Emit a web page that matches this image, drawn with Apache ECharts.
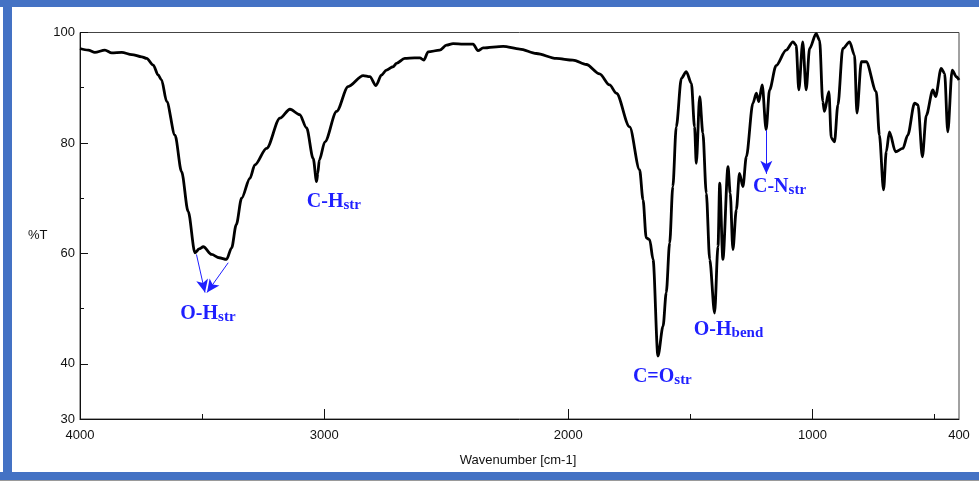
<!DOCTYPE html>
<html>
<head>
<meta charset="utf-8">
<script src="https://cdn.jsdelivr.net/npm/echarts@6/dist/echarts.min.js"></script>
<style>
  html, body { margin: 0; padding: 0; background: #ffffff; }
  #chart { width: 979px; height: 481px; }
</style>
</head>
<body>
<div id="chart"></div>
<script>
// FTIR transmittance spectrum: wavenumber (cm-1) and %T
const wavenumbers = [
  4000, 3966, 3939, 3898, 3870, 3829, 3788, 3747, 3727, 3700,
  3680, 3666, 3645, 3611, 3584, 3557, 3529, 3512, 3495, 3461,
  3430, 3400, 3379, 3360, 3338, 3304, 3284, 3236, 3181, 3140,
  3100, 3072, 3045, 3031, 3026, 3020, 2997, 2949, 2902, 2840,
  2813, 2788, 2765, 2745, 2718, 2704, 2670, 2630, 2608, 2592,
  2574, 2527, 2499, 2472, 2430, 2390, 2370, 2349, 2267, 2199,
  2131, 2049, 1981, 1926, 1872, 1831, 1803, 1749, 1708, 1694,
  1681, 1667, 1653, 1633, 1612, 1599, 1585, 1572, 1558, 1537,
  1517, 1496, 1483, 1476, 1462, 1449, 1435, 1421, 1401, 1387,
  1380, 1367, 1346, 1337, 1326, 1312, 1299, 1285, 1271, 1244,
  1230, 1220, 1206, 1190, 1176, 1149, 1108, 1080, 1067, 1056,
  1040, 1026, 1012, 985, 971, 958, 951, 933, 923, 910,
  896, 876, 848, 828, 818, 800, 780, 739, 726, 709,
  698, 685, 660, 630, 610, 582, 568, 550, 534, 507,
  496, 473, 459, 446, 428, 411, 400
];
const transmittance = [
  97.1, 96.8, 96.4, 96.8, 96.3, 96.4, 96.0, 95.6, 95.3, 94.1,
  92.3, 91.4, 87.5, 81.4, 74.8, 67.6, 60.1, 60.8, 61.2, 59.8,
  59.2, 58.9, 61.0, 65.2, 70.0, 73.6, 76.0, 79.0, 84.5, 86.1,
  85.1, 82.7, 77.2, 73.0, 74.5, 76.9, 80.2, 85.7, 90.2, 92.2,
  92.0, 90.4, 92.3, 93.2, 93.8, 94.4, 95.3, 95.4, 95.4, 95.0,
  96.5, 96.8, 97.7, 98.0, 97.9, 97.9, 96.7, 97.2, 97.5, 97.0,
  96.2, 95.3, 95.0, 94.2, 92.5, 90.5, 89.0, 82.9, 75.1, 69.7,
  62.8, 62.5, 58.9, 41.4, 46.8, 52.9, 61.9, 72.1, 82.9, 91.7,
  92.9, 90.8, 82.9, 76.3, 88.4, 81.8, 70.9, 58.9, 49.2, 61.3,
  72.7, 58.9, 75.7, 70.9, 60.7, 67.9, 74.5, 72.1, 77.5, 87.2,
  89.0, 87.5, 90.5, 82.4, 89.6, 94.0, 96.8, 98.3, 97.7, 89.6,
  98.3, 89.6, 97.1, 99.8, 98.6, 87.5, 85.7, 89.3, 80.9, 80.2,
  86.9, 97.1, 98.3, 95.9, 85.4, 94.7, 94.7, 89.3, 81.4, 71.5,
  78.4, 82.0, 78.4, 79.0, 81.4, 87.2, 86.9, 77.5, 85.0, 89.6,
  88.4, 93.5, 92.6, 82.0, 93.2, 92.0, 91.4
];

// Axis tick and label values
const xLabelValues = [4000, 3000, 2000, 1000, 400];
const xMajorTicks = [3000, 2000, 1000];
const xMinorTicks = [3500, 1500, 500];
const yLabelValues = [30, 40, 60, 80, 100];
const yMajorTicks = [40, 60, 80, 100];
const yMinorTicks = [50, 70, 90];

// Band assignments: text, subscript, label position [wavenumber, %T]
const bandNames = ['O-H', 'C-H', 'C=O', 'O-H', 'C-N'];
const bandSubs = ['str', 'str', 'str', 'bend', 'str'];
const bandLabelWn = [3476, 2960, 1615, 1344, 1135];
const bandLabelT = [49.1, 69.3, 37.6, 46.2, 72.1];

// Pointer arrows: [fromWn, fromT, toWn, toT]
const arrowFromWn = [3523, 3393, 1189];
const arrowFromT = [59.8, 58.3, 82.3];
const arrowToWn = [3488, 3480, 1189];
const arrowToT = [52.9, 52.9, 74.4];

const spectrum = wavenumbers.map((w, i) => [w, transmittance[i]]);
const annoColor = '#1f1fff';
const axisFont = { fontFamily: 'Liberation Sans, Arial, sans-serif', fontSize: 13, color: '#111' };
const plain = v => String(v);

const chart = echarts.init(document.getElementById('chart'), null, { renderer: 'canvas' });

chart.setOption({
  animation: false,
  backgroundColor: '#ffffff',
  grid: {
    left: 80, right: 20, top: 32.5, bottom: 62,
    show: true, borderColor: '#444', borderWidth: 1, backgroundColor: 'transparent'
  },
  xAxis: [
    {
      type: 'value', min: 400, max: 4000, inverse: true,
      splitLine: { show: false },
      axisLine: { show: true, onZero: false, lineStyle: { color: '#111', width: 1 } },
      axisTick: { show: true, inside: true, length: 10, customValues: xMajorTicks, lineStyle: { color: '#111' } },
      axisLabel: Object.assign({ customValues: xLabelValues, margin: 10, formatter: plain }, axisFont)
    },
    {
      type: 'value', min: 400, max: 4000, inverse: true, position: 'bottom',
      splitLine: { show: false },
      axisLine: { show: false },
      axisTick: { show: true, inside: true, length: 5, customValues: xMinorTicks, lineStyle: { color: '#111' } },
      axisLabel: { show: false }
    }
  ],
  yAxis: [
    {
      type: 'value', min: 30, max: 100, interval: 10,
      splitLine: { show: false },
      axisLine: { show: true, onZero: false, lineStyle: { color: '#111', width: 1 } },
      axisTick: { show: true, inside: true, length: 8, customValues: yMajorTicks, lineStyle: { color: '#111' } },
      axisLabel: Object.assign({ customValues: yLabelValues, margin: 5, formatter: plain }, axisFont)
    },
    {
      type: 'value', min: 30, max: 100, interval: 10, position: 'left',
      splitLine: { show: false },
      axisLine: { show: false },
      axisTick: { show: true, inside: true, length: 4, customValues: yMinorTicks, lineStyle: { color: '#111' } },
      axisLabel: { show: false }
    }
  ],
  series: [
    {
      type: 'line',
      xAxisIndex: 0, yAxisIndex: 0,
      data: spectrum,
      showSymbol: false,
      smooth: 0.3,
      smoothMonotone: 'x',
      lineStyle: { color: '#000', width: 2.8 },
      markPoint: {
        silent: true,
        symbol: 'circle', symbolSize: 0,
        label: {
          show: true, position: 'inside',
          formatter: p => '{m|' + p.data.main + '}{s|' + p.data.sub + '}',
          rich: {
            m: { fontFamily: 'Liberation Serif, Times New Roman, serif', fontWeight: 'bold', fontSize: 20, color: annoColor },
            s: { fontFamily: 'Liberation Serif, Times New Roman, serif', fontWeight: 'bold', fontSize: 15, color: annoColor, padding: [7, 0, 0, 0] }
          }
        },
        data: bandNames.map((n, i) => ({ coord: [bandLabelWn[i], bandLabelT[i]], main: n, sub: bandSubs[i] }))
      },
      markLine: {
        silent: true,
        symbol: ['none', 'arrow'],
        symbolSize: [9, 13],
        label: { show: false },
        lineStyle: { color: annoColor, width: 1, type: 'solid' },
        data: arrowFromWn.map((w, i) => [
          { coord: [w, arrowFromT[i]] },
          { coord: [arrowToWn[i], arrowToT[i]] }
        ])
      }
    }
  ],
  graphic: [
    { type: 'rect', shape: { x: 0, y: 0, width: 979, height: 7 }, style: { fill: '#4472c4' } },
    { type: 'rect', shape: { x: 3, y: 0, width: 9, height: 481 }, style: { fill: '#4472c4' } },
    { type: 'rect', shape: { x: 0, y: 472, width: 979, height: 8 }, style: { fill: '#4472c4' } },
    { type: 'rect', shape: { x: 0, y: 480, width: 979, height: 1 }, style: { fill: '#9a9a9a' } },
    { type: 'text', x: 28, y: 235, style: { text: '%T', fill: '#111', font: '13px Liberation Sans, Arial, sans-serif', verticalAlign: 'middle' } },
    { type: 'text', x: 518, y: 460, style: { text: 'Wavenumber [cm-1]', fill: '#111', font: '13px Liberation Sans, Arial, sans-serif', align: 'center', verticalAlign: 'middle' } }
  ]
});
</script>
</body>
</html>
